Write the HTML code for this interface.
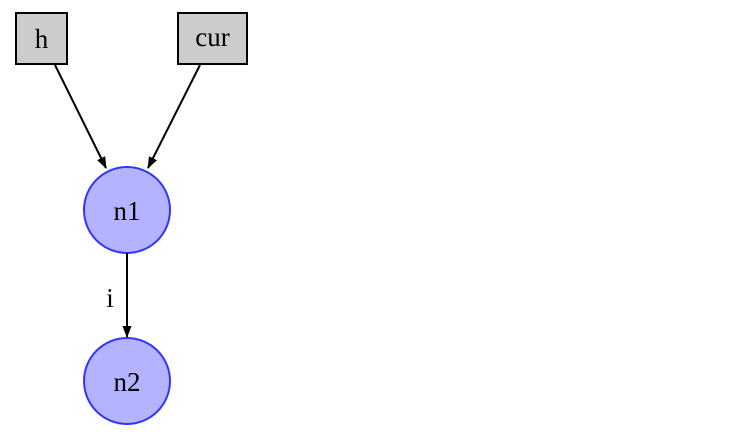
<!DOCTYPE html>
<html><head><style>html,body{margin:0;padding:0;background:#fff;}</style></head>
<body>
<svg width="730" height="430" viewBox="0 0 730 430" xmlns="http://www.w3.org/2000/svg" font-family="Liberation Serif, serif" font-size="27">
<defs><marker id="a" markerWidth="12" markerHeight="12" refX="11" refY="6" orient="auto" markerUnits="userSpaceOnUse"><path d="M0,1.5 L12,6 L0,10.5 z" fill="#000"/></marker></defs>
<rect x="16" y="13" width="51" height="51" fill="#cccccc" stroke="#000" stroke-width="2"/>
<text x="41.5" y="48" text-anchor="middle">h</text>
<rect x="178" y="13" width="69" height="51" fill="#cccccc" stroke="#000" stroke-width="2"/>
<text x="212.5" y="46" text-anchor="middle">cur</text>
<line x1="55" y1="65" x2="106" y2="168" stroke="#000" stroke-width="2" marker-end="url(#a)"/>
<line x1="200" y1="65" x2="148" y2="168" stroke="#000" stroke-width="2" marker-end="url(#a)"/>
<circle cx="127" cy="210" r="43" fill="#b3b3ff" stroke="#3333ff" stroke-width="2"/>
<text x="127" y="220" text-anchor="middle">n1</text>
<line x1="127" y1="253" x2="127" y2="337" stroke="#000" stroke-width="2" marker-end="url(#a)"/>
<text x="110" y="307" text-anchor="middle">i</text>
<circle cx="127" cy="381" r="43" fill="#b3b3ff" stroke="#3333ff" stroke-width="2"/>
<text x="127" y="391" text-anchor="middle">n2</text>
</svg>
</body></html>
